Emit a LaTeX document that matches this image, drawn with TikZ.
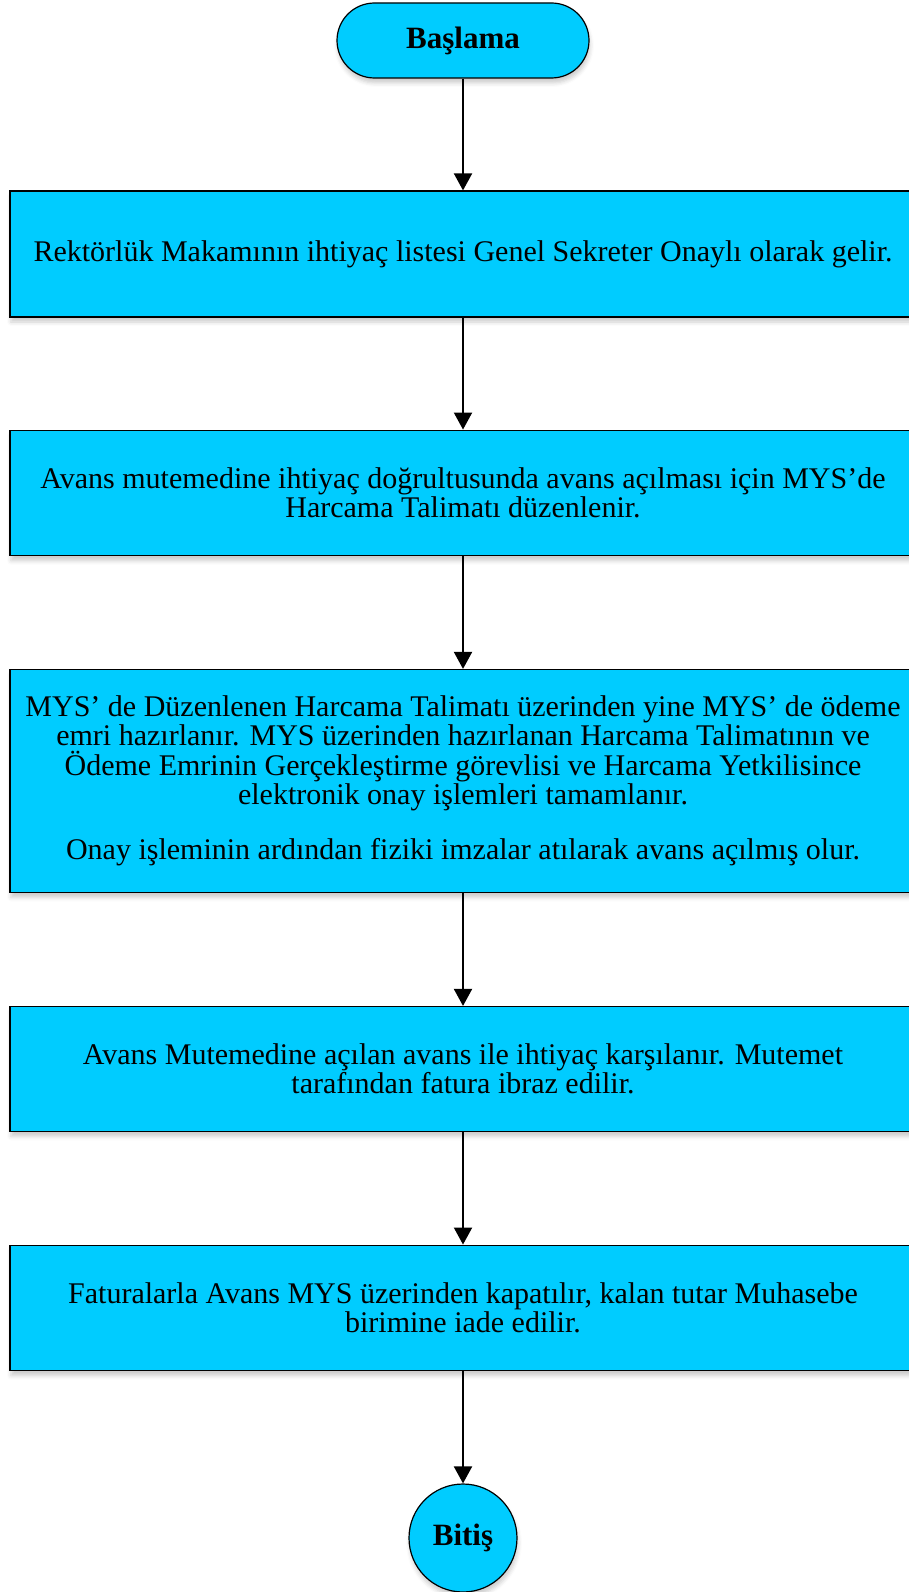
\documentclass[tikz,border=0pt]{standalone}
\usepackage{fontspec}
\setmainfont{Liberation Serif}
\usetikzlibrary{arrows.meta,shadows.blur}
\definecolor{boxcyan}{RGB}{0,204,255}
\tikzset{
  procbox/.style={draw=black, line width=1.2pt, fill=boxcyan, rectangle,
    minimum width=906pt, align=center, inner sep=0pt,
    font=\fontsize{30}{29.5}\selectfont,
    blur shadow={shadow xshift=1pt, shadow yshift=-5pt, shadow blur radius=4pt, shadow opacity=20}},
  termbox/.style={draw=black, line width=1.2pt, fill=boxcyan, rectangle,
    minimum width=252pt, minimum height=75pt, rounded corners=37.5pt,
    font=\fontsize{31}{33}\selectfont\bfseries,
    blur shadow={shadow xshift=1pt, shadow yshift=-5pt, shadow blur radius=4pt, shadow opacity=20}},
  endcircle/.style={draw=black, line width=1.2pt, fill=boxcyan, circle,
    minimum size=108pt, inner sep=0pt, font=\fontsize{31}{33}\selectfont\bfseries,
    blur shadow={shadow xshift=1pt, shadow yshift=-5pt, shadow blur radius=4pt, shadow opacity=20}},
  arr/.style={line width=2pt, -{Triangle[width=18pt,length=17pt]}}
}
\begin{document}
\begin{tikzpicture}[x=1pt,y=-1pt]
\useasboundingbox (0,0) rectangle (909,1592);
\clip (0,0) rectangle (909,1592);
\node[termbox] (start) at (463,40.5) {Başlama};
\node[procbox, minimum height=126pt] (b1) at (463,254)
  {Rektörlük Makamının ihtiyaç listesi Genel Sekreter Onaylı olarak gelir.};
\node[procbox, minimum height=125.7pt] (b2) at (463,493)
  {Avans mutemedine ihtiyaç doğrultusunda avans açılması için MYS’de\\
   Harcama Talimatı düzenlenir.};
\node[procbox, minimum height=223pt] (b3) at (463,781)
  {MYS’ de Düzenlenen Harcama Talimatı üzerinden yine MYS’ de ödeme\\
   emri hazırlanır. MYS üzerinden hazırlanan Harcama Talimatının ve\\
   Ödeme Emrinin Gerçekleştirme görevlisi ve Harcama Yetkilisince\\
   elektronik onay işlemleri tamamlanır.\\[25.4pt]
   Onay işleminin ardından fiziki imzalar atılarak avans açılmış olur.};
\node[procbox, minimum height=125pt] (b4) at (463,1069)
  {Avans Mutemedine açılan avans ile ihtiyaç karşılanır. Mutemet\\
   tarafından fatura ibraz edilir.};
\node[procbox, minimum height=125.7pt] (b5) at (463,1308)
  {Faturalarla Avans MYS üzerinden kapatılır, kalan tutar Muhasebe\\
   birimine iade edilir.};
\node[endcircle] (end) at (463,1538) {Bitiş};
\draw[arr] (start) -- (b1);
\draw[arr] (b1) -- (b2);
\draw[arr] (b2) -- (b3);
\draw[arr] (b3) -- (b4);
\draw[arr] (b4) -- (b5);
\draw[arr] (b5) -- (end);
\end{tikzpicture}
\end{document}
